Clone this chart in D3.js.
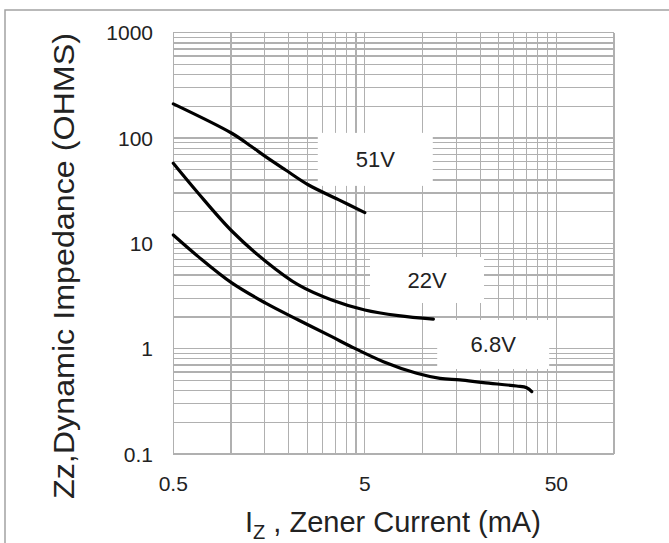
<!DOCTYPE html>
<html>
<head>
<meta charset="utf-8">
<script src="https://cdn.jsdelivr.net/npm/d3@7"></script>
<style>
  html, body { margin: 0; padding: 0; background: #fff; }
  svg { display: block; }
  text { font-family: Arial, 'Liberation Sans', sans-serif; fill: #222; }
</style>
</head>
<body>
<div id="chart"></div>
<script>
// Data
const xTickValues = [0.5, 5, 50];
const yTickValues = [0.1, 1, 10, 100, 1000];

const current51 = [0.5, 1.01, 1.28, 1.51, 1.92, 2.53, 3.64, 5.0];
const imp51     = [211, 111, 83, 67, 50, 36, 26, 19.6];

const current22 = [0.5, 0.675, 1.01, 1.51, 2.25, 3.36, 5.0, 7.48, 11.4];
const imp22     = [57.6, 29.9, 13.1, 6.81, 4.03, 2.90, 2.33, 2.06, 1.91];

const current68 = [0.5, 0.675, 1.01, 1.51, 2.25, 3.36, 4.18, 6.25, 9.33, 12.35, 15.7, 20.8, 31.0, 35.0, 37.2];
const imp68     = [12.0, 7.48, 4.21, 2.72, 1.87, 1.30, 1.06, 0.752, 0.584, 0.523, 0.505, 0.476, 0.442, 0.426, 0.391];

const seriesNames = ['51V', '22V', '6.8V'];
const labelX      = [5.67, 10.56, 23.4];   // label box centres, mA
const labelY      = [62.7, 4.49, 1.096];   // label box centres, ohms

// Layout
const width  = 669;
const height = 543;
const plot = { left: 173.3, right: 614, top: 32.7, bottom: 454 };

const svg = d3.select('#chart')
  .append('svg')
    .attr('width', width)
    .attr('height', height);

// outer frame (runs off the right/bottom edge like the source image)
svg.append('rect')
  .attr('x', 5).attr('y', 10)
  .attr('width', width + 20).attr('height', height + 20)
  .attr('fill', 'none')
  .attr('stroke', '#a3a3a3')
  .attr('stroke-width', 1.5);

const x = d3.scaleLog().domain([0.5, 100]).range([plot.left, plot.right]);
const y = d3.scaleLog().domain([0.1, 1000]).range([plot.bottom, plot.top]);

// Excel style log grid: base * k for k = 1..9 in each decade
const xGrid = [];
[0.5, 5, 50].forEach(b => d3.range(1, 10).forEach(k => { if (b * k <= 100) xGrid.push(b * k); }));
xGrid.push(100);
const yGrid = [];
[0.1, 1, 10, 100].forEach(b => d3.range(1, 10).forEach(k => yGrid.push(b * k)));
yGrid.push(1000);

const grid = svg.append('g')
  .attr('stroke', '#b0b0b0')
  .attr('stroke-width', 1.2)
  .attr('shape-rendering', 'crispEdges');

grid.selectAll('line.v')
  .data(xGrid)
  .join('line')
    .attr('class', 'v')
    .attr('x1', d => x(d)).attr('x2', d => x(d))
    .attr('y1', plot.top).attr('y2', plot.bottom);

grid.selectAll('line.h')
  .data(yGrid)
  .join('line')
    .attr('class', 'h')
    .attr('x1', plot.left).attr('x2', plot.right)
    .attr('y1', d => y(d)).attr('y2', d => y(d));

// white label boxes sitting on the grid
const boxW = [115, 114, 112];
const boxH = [53, 46, 49];
svg.append('g')
  .selectAll('rect')
  .data(seriesNames)
  .join('rect')
    .attr('x', (d, i) => x(labelX[i]) - boxW[i] / 2)
    .attr('y', (d, i) => y(labelY[i]) - boxH[i] / 2)
    .attr('width', (d, i) => boxW[i])
    .attr('height', (d, i) => boxH[i])
    .attr('fill', '#fff');

// curves
const line = d3.line()
  .x(d => x(d[0]))
  .y(d => y(d[1]))
  .curve(d3.curveCatmullRom.alpha(0.5));

const curves = [
  d3.zip(current51, imp51),
  d3.zip(current22, imp22),
  d3.zip(current68, imp68)
];

svg.append('g')
  .selectAll('path')
  .data(curves)
  .join('path')
    .attr('d', line)
    .attr('fill', 'none')
    .attr('stroke', '#000')
    .attr('stroke-width', 3.2)
    .attr('stroke-linecap', 'round')
    .attr('stroke-linejoin', 'round');

// labels
svg.append('g')
  .selectAll('text')
  .data(seriesNames)
  .join('text')
    .attr('x', (d, i) => x(labelX[i]))
    .attr('y', (d, i) => y(labelY[i]) + 8)
    .attr('text-anchor', 'middle')
    .attr('font-size', 22)
    .text(d => d);

// tick labels
svg.append('g')
  .selectAll('text')
  .data(yTickValues)
  .join('text')
    .attr('x', 153)
    .attr('y', d => y(d) + 7.5)
    .attr('text-anchor', 'end')
    .attr('font-size', 21)
    .text(d => d3.format('~g')(d));

svg.append('g')
  .selectAll('text')
  .data(xTickValues)
  .join('text')
    .attr('x', d => x(d))
    .attr('y', 491)
    .attr('text-anchor', 'middle')
    .attr('font-size', 21)
    .text(d => d);

// axis titles
const xTitle = svg.append('text')
  .attr('x', 245)
  .attr('y', 532)
  .attr('font-size', 29);
xTitle.append('tspan').text('I');
xTitle.append('tspan').attr('font-size', 20).attr('dy', 7).text('Z');
xTitle.append('tspan').attr('dy', -7).text(' , Zener Current (mA)');

svg.append('text')
  .attr('transform', 'translate(74,266) rotate(-90)')
  .attr('text-anchor', 'middle')
  .attr('font-size', 29)
  .attr('textLength', 466)
  .attr('lengthAdjust', 'spacingAndGlyphs')
  .text('Zz,Dynamic Impedance (OHMS)');
</script>
</body>
</html>
